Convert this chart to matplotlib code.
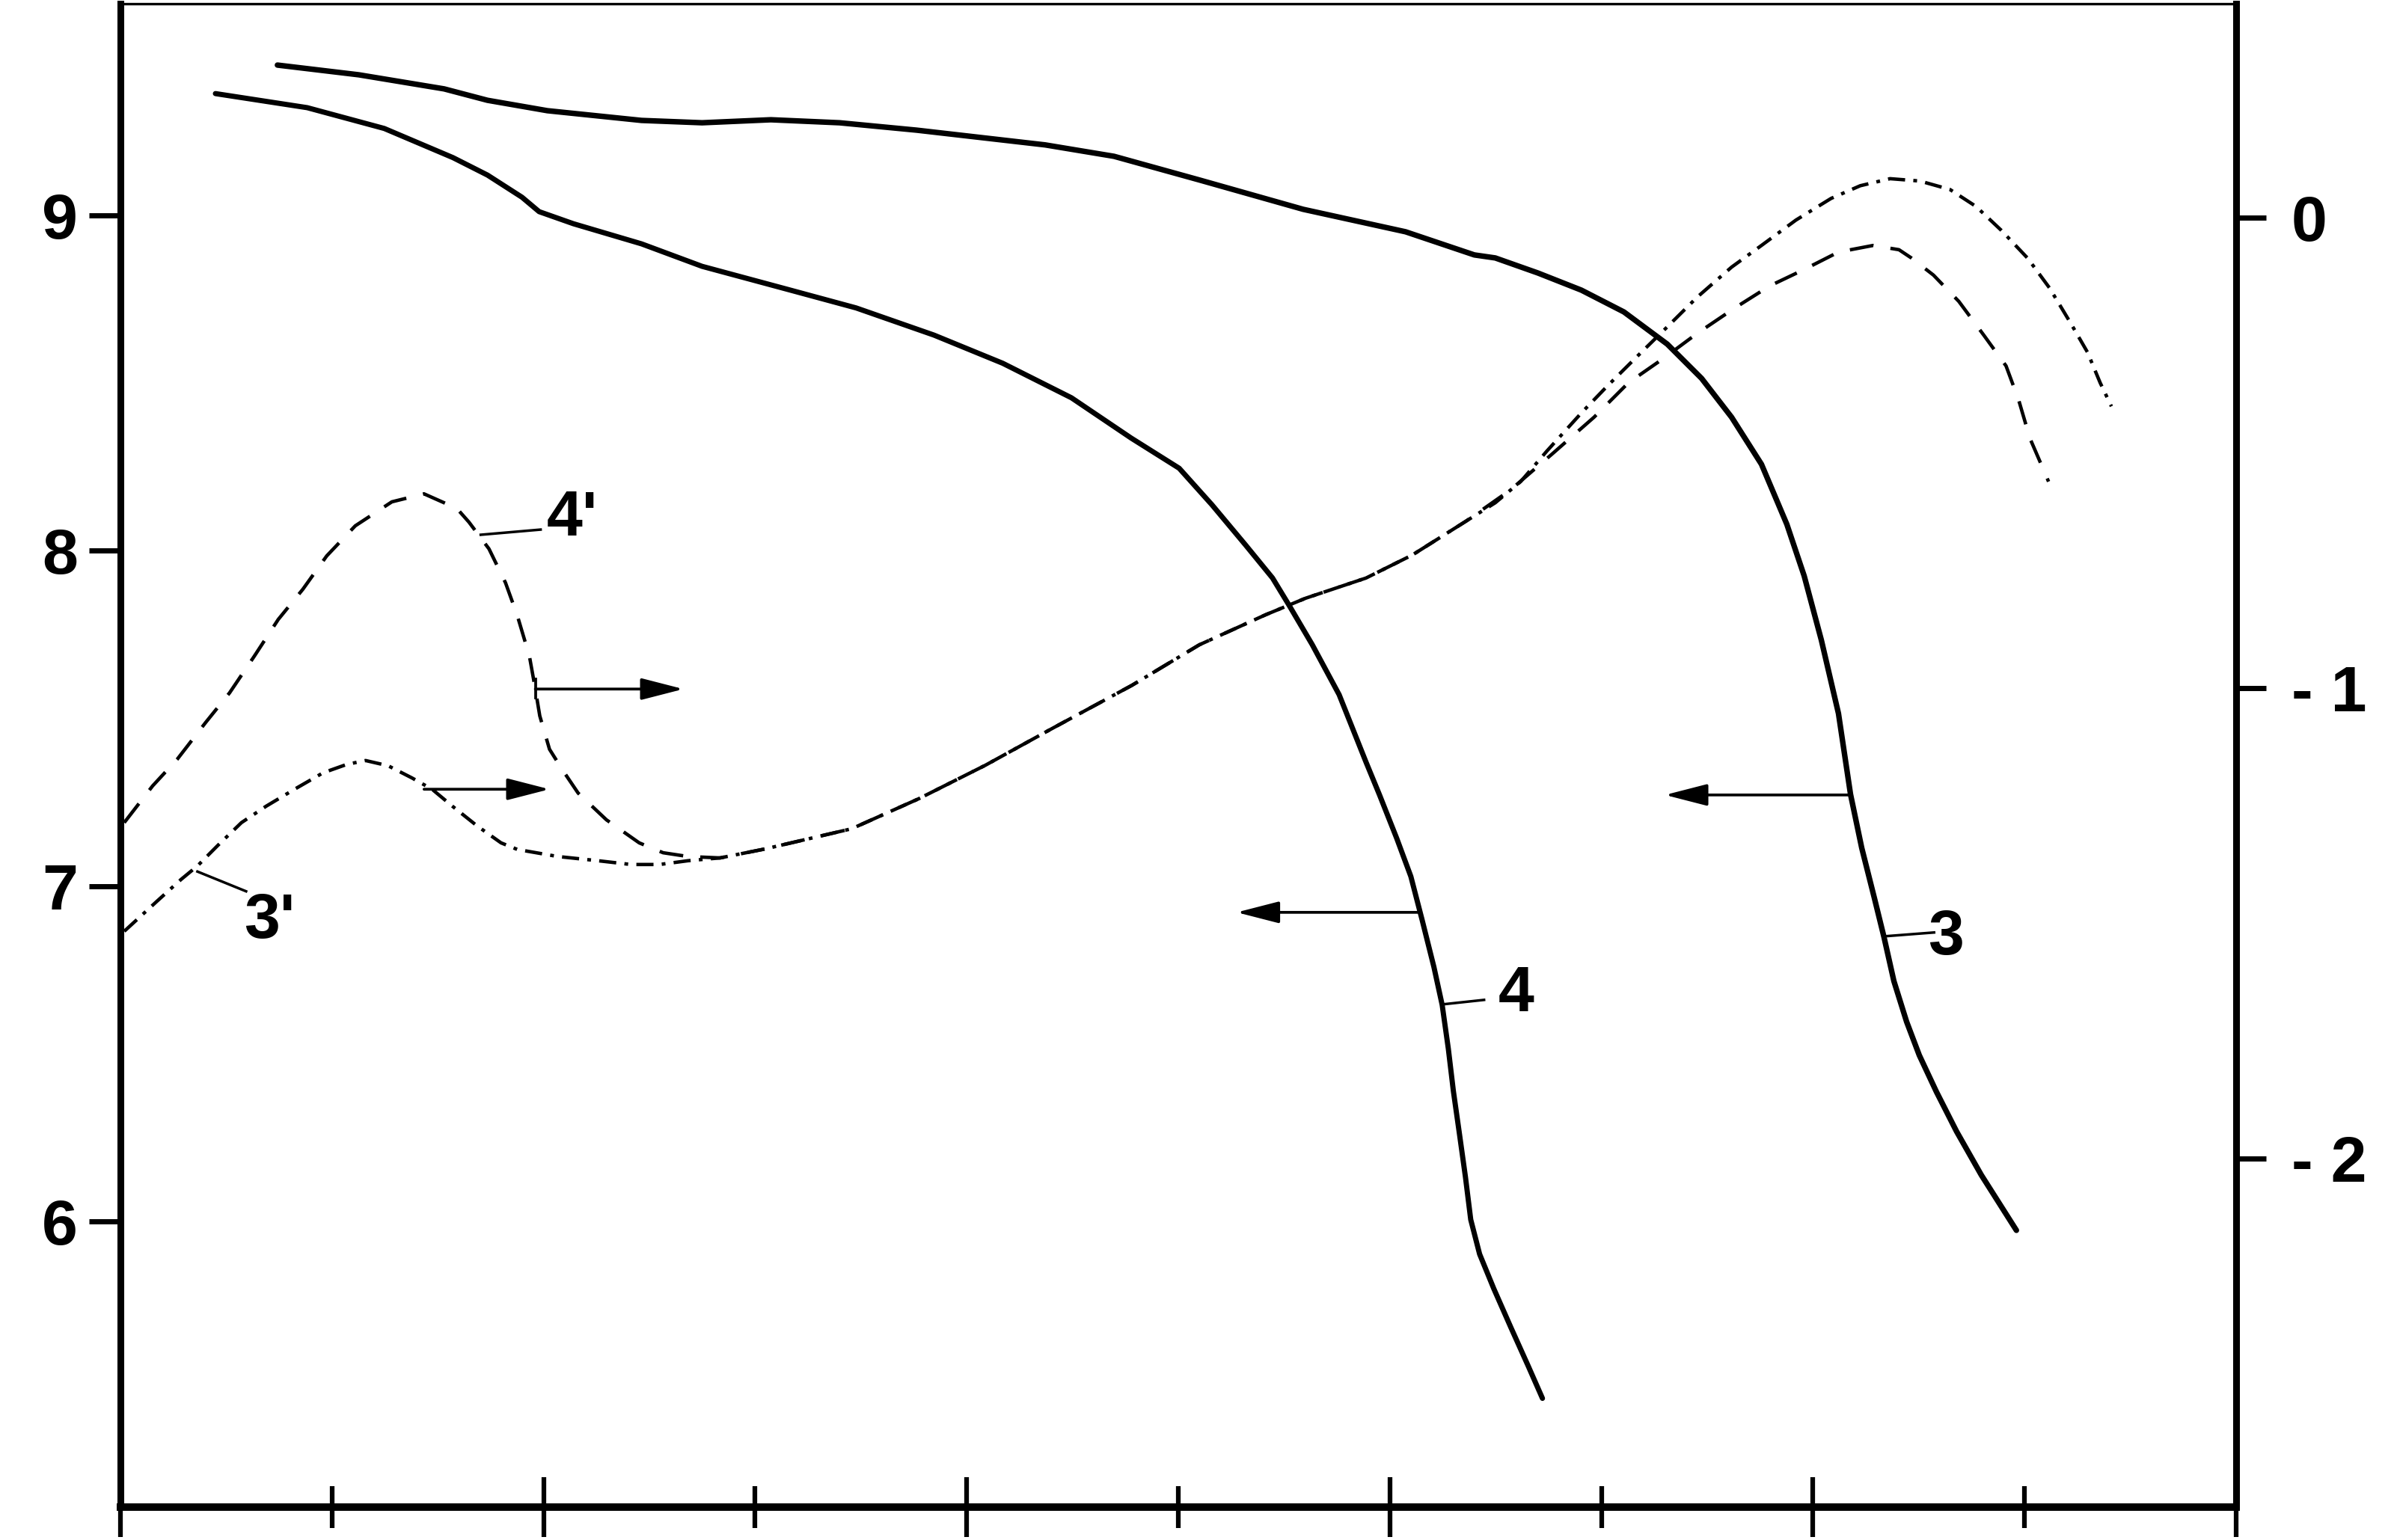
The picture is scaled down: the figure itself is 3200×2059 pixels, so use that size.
import numpy as np
import matplotlib
matplotlib.use("Agg")
import matplotlib.pyplot as plt

plt.rcParams['font.family'] = ['Liberation Sans', 'DejaVu Sans']
plt.rcParams['font.weight'] = 'bold'

# Curve 4 (solid, left axis)
x4 = [0.449, 0.883, 1.247, 1.572, 1.735, 1.898, 1.979, 2.141, 2.463, 2.749,
      3.155, 3.477, 3.845, 4.170, 4.495, 4.777, 5.004, 5.159, 5.318, 5.445,
      5.523, 5.633, 5.760, 5.887, 5.951, 6.032, 6.099, 6.152, 6.208, 6.247,
      6.276, 6.300, 6.329, 6.357, 6.382, 6.424, 6.491, 6.572, 6.654, 6.721]
y4 = [9.363, 9.321, 9.259, 9.172, 9.120, 9.054, 9.011, 8.975, 8.915, 8.848,
      8.779, 8.724, 8.643, 8.559, 8.456, 8.336, 8.246, 8.137, 8.017, 7.919,
      7.838, 7.720, 7.571, 7.370, 7.272, 7.143, 7.029, 6.900, 6.759, 6.646,
      6.516, 6.389, 6.260, 6.133, 6.006, 5.903, 5.800, 5.684, 5.569, 5.473]

# Curve 3 (solid, left axis)
x3 = [0.742, 1.127, 1.530, 1.735, 2.018, 2.463, 2.749, 3.074, 3.399, 3.763,
      4.371, 4.696, 5.102, 5.590, 6.074, 6.399, 6.498, 6.700, 6.905, 7.106,
      7.311, 7.473, 7.615, 7.756, 7.876, 7.958, 8.039, 8.120, 8.177, 8.230,
      8.290, 8.336, 8.382, 8.442, 8.502, 8.583, 8.678, 8.795, 8.961]
y3 = [9.448, 9.419, 9.377, 9.343, 9.312, 9.283, 9.276, 9.285, 9.276, 9.254,
      9.210, 9.176, 9.105, 9.018, 8.951, 8.882, 8.873, 8.828, 8.777, 8.712,
      8.616, 8.514, 8.398, 8.258, 8.079, 7.925, 7.734, 7.515, 7.274, 7.114,
      6.964, 6.846, 6.717, 6.596, 6.496, 6.387, 6.269, 6.139, 5.974]

# Curve 4' (dashed, right axis)
x4p = [0.018, 0.152, 0.269, 0.403, 0.516, 0.633, 0.746, 0.862, 0.975, 1.110,
       1.283, 1.435, 1.590, 1.647, 1.742, 1.820, 1.876, 1.933, 1.961, 1.982,
       2.028, 2.088, 2.163, 2.297, 2.452, 2.565, 2.682, 2.834, 3.046, 3.456,
       3.774, 4.088, 4.403, 4.781, 5.099, 5.413, 5.601, 5.887, 6.106, 6.360,
       6.569, 6.770, 6.965, 7.127, 7.290, 7.452, 7.633, 7.795, 7.958, 8.120,
       8.283, 8.406, 8.466, 8.569, 8.689, 8.809, 8.912, 8.972, 9.025, 9.095,
       9.113]
y4p = [-1.286, -1.208, -1.151, -1.073, -1.010, -0.932, -0.854, -0.790, -0.719, -0.655,
       -0.604, -0.587, -0.618, -0.647, -0.704, -0.776, -0.846, -0.932, -1.002, -1.059,
       -1.130, -1.173, -1.223, -1.280, -1.329, -1.350, -1.358, -1.361, -1.342, -1.299,
       -1.235, -1.164, -1.086, -0.994, -0.908, -0.844, -0.809, -0.766, -0.717, -0.645,
       -0.579, -0.501, -0.424, -0.351, -0.300, -0.246, -0.191, -0.145, -0.110, -0.073,
       -0.059, -0.068, -0.086, -0.122, -0.178, -0.251, -0.315, -0.388, -0.469, -0.542,
       -0.561]

# Curve 3' (dash-dot, right axis)
x3p = [0.018, 0.173, 0.286, 0.364, 0.459, 0.572, 0.689, 0.823, 0.958, 1.071,
       1.159, 1.265, 1.378, 1.473, 1.569, 1.686, 1.799, 1.876, 2.067, 2.258,
       2.413, 2.548, 2.682, 2.834, 3.046, 3.456, 3.774, 4.088, 4.403, 4.781,
       5.099, 5.413, 5.601, 5.887, 6.106, 6.360, 6.498, 6.618, 6.742, 6.905,
       7.025, 7.166, 7.311, 7.452, 7.615, 7.756, 7.919, 8.085, 8.223, 8.364,
       8.505, 8.647, 8.770, 8.890, 9.014, 9.117, 9.216, 9.297, 9.357, 9.410]
y3p = [-1.517, -1.453, -1.407, -1.378, -1.335, -1.286, -1.251, -1.215, -1.180, -1.162,
       -1.154, -1.165, -1.191, -1.215, -1.251, -1.293, -1.329, -1.343, -1.358, -1.367,
       -1.375, -1.375, -1.367, -1.361, -1.342, -1.299, -1.235, -1.164, -1.086, -0.994,
       -0.908, -0.844, -0.809, -0.766, -0.717, -0.645, -0.606, -0.561, -0.496, -0.415,
       -0.359, -0.296, -0.232, -0.169, -0.105, -0.059, -0.005, 0.041, 0.068, 0.083,
       0.078, 0.060, 0.024, -0.027, -0.086, -0.149, -0.223, -0.286, -0.351, -0.401]

left_ticks = [6, 7, 8, 9]
left_labels = ['6', '7', '8', '9']
right_ticks = [-2, -1, 0]
right_labels = ['- 2', '- 1', '0']

fig = plt.figure(figsize=(32, 20.59), dpi=100)
ax = fig.add_axes([0.0503, 0.0214, 0.8838, 0.9762])
ax2 = ax.twinx()

ax.set_xlim(0, 10)
ax.set_ylim(5.149, 9.631)
ax2.set_ylim(-2.741, 0.455)

# solid curves
ax.plot(x4, y4, color='k', lw=5.0, solid_capstyle='round', solid_joinstyle='round')
ax.plot(x3, y3, color='k', lw=5.3, solid_capstyle='round', solid_joinstyle='round')

# dashed curves (right axis)
ax2.plot(x4p, y4p, color='k', lw=3.3, linestyle=(0, (7, 5)))
ax2.plot(x3p, y3p, color='k', lw=3.3, linestyle=(0, (5, 2.4, 1.1, 2.4)))

arrow = dict(arrowstyle='-|>,head_length=3.5,head_width=0.9', mutation_scale=10,
             lw=2.7, color='k', shrinkA=0, shrinkB=0)

# direction arrows
ax2.annotate('', xy=(2.661, -1.002), xytext=(1.961, -1.002), arrowprops=arrow)
ax2.plot([1.961, 1.961], [-0.981, -1.021], color='k', lw=2.7)
ax2.annotate('', xy=(2.028, -1.215), xytext=(1.435, -1.215), arrowprops=arrow)
ax.annotate('', xy=(7.300, 7.272), xytext=(8.177, 7.272), arrowprops=arrow)
ax.annotate('', xy=(5.276, 6.922), xytext=(6.138, 6.922), arrowprops=arrow)

# curve labels with leader lines
lab_font = dict(fontsize=62, fontweight='bold', ha='center', va='center')
ax2.plot([1.703, 1.986], [-0.674, -0.663], color='k', lw=2.5)
ax2.text(2.134, -0.641, "4'", **lab_font)
ax2.plot([0.364, 0.594], [-1.390, -1.432], color='k', lw=2.5)
ax2.text(0.703, -1.496, "3'", **lab_font)
ax.plot([6.254, 6.445], [6.648, 6.661], color='k', lw=2.5)
ax.text(6.597, 6.677, "4", **lab_font)
ax.plot([8.346, 8.572], [6.851, 6.862], color='k', lw=2.5)
ax.text(8.629, 6.846, "3", **lab_font)

# axes styling
ax.set_xticks([0, 2, 4, 6, 8, 10])
ax.set_xticks([1, 3, 5, 7, 9], minor=True)
ax.tick_params(axis='x', which='major', direction='inout', length=58, width=4.5,
               labelbottom=False)
ax.tick_params(axis='x', which='minor', direction='inout', length=40, width=4.5)

ax.set_yticks(left_ticks)
ax.set_yticklabels(left_labels)
ax.tick_params(axis='y', direction='out', length=30, width=5, pad=11,
               labelsize=62)

ax2.set_yticks(right_ticks)
ax2.set_yticklabels(right_labels)
ax2.tick_params(axis='y', direction='out', length=29, width=5, pad=24,
                labelsize=62)

for lbl in ax.get_yticklabels() + ax2.get_yticklabels():
    lbl.set_fontweight('bold')

ax.spines['left'].set_linewidth(6.5)
ax.spines['bottom'].set_linewidth(7.2)
ax.spines['top'].set_linewidth(2.4)
ax.spines['right'].set_visible(False)
for s in ['left', 'top', 'bottom']:
    ax2.spines[s].set_visible(False)
ax2.spines['right'].set_linewidth(6.5)

fig.savefig('out.png', dpi=100, facecolor='white')
